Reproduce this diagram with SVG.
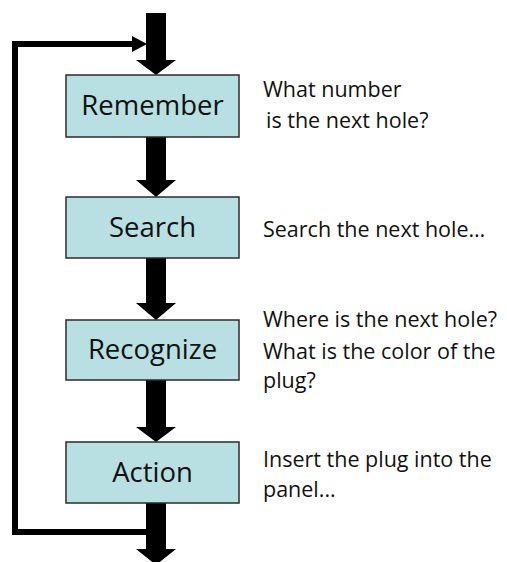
<svg xmlns="http://www.w3.org/2000/svg" width="507" height="562" viewBox="0 0 507 562">
<style>
.box{fill:#b8e0e3;stroke:#2b2b2b;stroke-width:1.5}
.lbl{font-family:"Open Sans","Liberation Sans",sans-serif;font-size:27.5px;fill:#111;text-anchor:middle}
.note{font-family:"Open Sans","Liberation Sans",sans-serif;font-size:21.5px;fill:#111}
.big{fill:#000}
</style>
<rect width="507" height="562" fill="#fff"/>
<g id="connectors">
  <polyline points="156,532 15,532 15,44 134,44" fill="none" stroke="#000" stroke-width="6"/>
  <polygon points="132,36 147,44 132,52" class="big"/>
  <polygon points="146,13 166,13 166,60 176,60 156,75 136,60 146,60" class="big"/>
  <polygon points="146,137 166,137 166,180 176,180 156,197 136,180 146,180" class="big"/>
  <polygon points="146,258 166,258 166,303 176,303 156,320 136,303 146,303" class="big"/>
  <polygon points="146,380 166,380 166,427 176,427 156,442 136,427 146,427" class="big"/>
  <polygon points="146,503 166,503 166,549 176,549 156,565 136,549 146,549" class="big"/>
</g>
<g id="remember">
  <rect class="box" x="66" y="75" width="173" height="62"/>
  <text class="lbl" x="152.5" y="115">Remember</text>
</g>
<g id="search">
  <rect class="box" x="66" y="197" width="173" height="61"/>
  <text class="lbl" x="152.5" y="237">Search</text>
</g>
<g id="recognize">
  <rect class="box" x="66" y="320" width="173" height="60"/>
  <text class="lbl" x="152.5" y="359">Recognize</text>
</g>
<g id="action">
  <rect class="box" x="66" y="442" width="173" height="61"/>
  <text class="lbl" x="152.5" y="482">Action</text>
</g>
<g id="notes">
  <text class="note" x="263" y="97">What number</text>
  <text class="note" x="266" y="128">is the next hole?</text>
  <text class="note" x="263" y="237">Search the next hole…</text>
  <text class="note" x="263" y="327">Where is the next hole?</text>
  <text class="note" x="263" y="359">What is the color of the</text>
  <text class="note" x="263" y="388">plug?</text>
  <text class="note" x="263" y="467">Insert the plug into the</text>
  <text class="note" x="263" y="497">panel...</text>
</g>
</svg>
